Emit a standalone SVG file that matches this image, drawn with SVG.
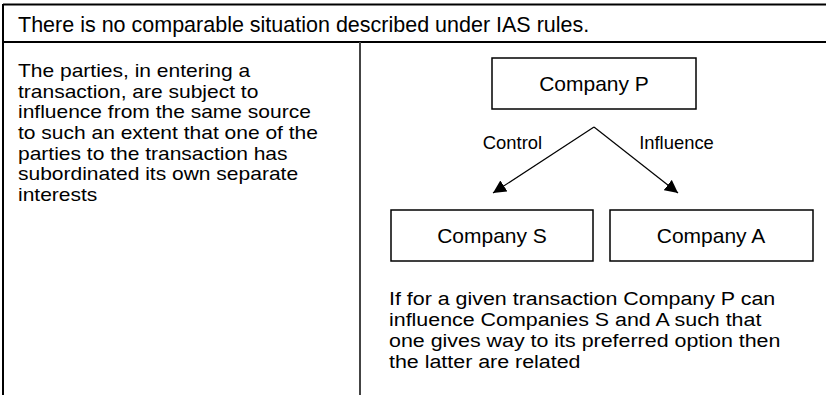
<svg xmlns="http://www.w3.org/2000/svg" width="826" height="395" viewBox="0 0 826 395">
<style>
text{font-family:"Liberation Sans",Arial,Helvetica,sans-serif;fill:#000}
.h{font-size:21.5px}
.t{font-size:18px}
.n{font-size:21px;text-anchor:middle}
.l{font-size:18.4px;text-anchor:middle}
.box{fill:#fff;stroke:#000;stroke-width:1.5}
.rule{stroke:#000;stroke-width:2;fill:none}
.edge{stroke:#000;stroke-width:1.2;fill:none}
</style>
<defs>
<marker id="ah" viewBox="0 0 10 10" refX="10" refY="5" markerWidth="13" markerHeight="13" markerUnits="userSpaceOnUse" orient="auto">
<path d="M0,0 L10,5 L0,10 z" fill="#000"/>
</marker>
</defs>
<rect width="826" height="395" fill="#fff"/>
<g id="table">
<line class="rule" x1="3" y1="4.5" x2="826" y2="4.5"/>
<line class="rule" x1="3" y1="42" x2="826" y2="42"/>
<line class="rule" x1="3" y1="4" x2="3" y2="395"/>
<line x1="360" y1="42" x2="360" y2="395" stroke="#444" stroke-width="2"/>
<text class="h" x="18" y="32">There is no comparable situation described under IAS rules.</text>
<g transform="translate(18,0) scale(1.167,1)">
<text class="t" x="0" y="77">
<tspan x="0" y="77">The parties, in entering a</tspan>
<tspan x="0" y="97.7">transaction, are subject to</tspan>
<tspan x="0" y="118.4">influence from the same source</tspan>
<tspan x="0" y="139.1">to such an extent that one of the</tspan>
<tspan x="0" y="159.8">parties to the transaction has</tspan>
<tspan x="0" y="180.5">subordinated its own separate</tspan>
<tspan x="0" y="201.2">interests</tspan>
</text>
</g>
<g transform="translate(389,0) scale(1.19,1)">
<text class="t" x="0" y="305">
<tspan x="0" y="305">If for a given transaction Company P can</tspan>
<tspan x="0" y="326">influence Companies S and A such that</tspan>
<tspan x="0" y="347">one gives way to its preferred option then</tspan>
<tspan x="0" y="368">the latter are related</tspan>
</text>
</g>
</g>
<g id="connectors">
<line class="edge" x1="594" y1="127" x2="493" y2="193" marker-end="url(#ah)"/>
<line class="edge" x1="594" y1="127" x2="678" y2="193" marker-end="url(#ah)"/>
<text class="l" x="512.5" y="149">Control</text>
<text class="l" x="676.5" y="149">Influence</text>
</g>
<g id="company-p">
<rect class="box" x="492" y="58" width="204" height="51"/>
<text class="n" x="594" y="91">Company P</text>
</g>
<g id="company-s">
<rect class="box" x="391" y="210" width="202" height="51"/>
<text class="n" x="492" y="243">Company S</text>
</g>
<g id="company-a">
<rect class="box" x="610" y="210" width="203" height="51"/>
<text class="n" x="711" y="243">Company A</text>
</g>
</svg>
